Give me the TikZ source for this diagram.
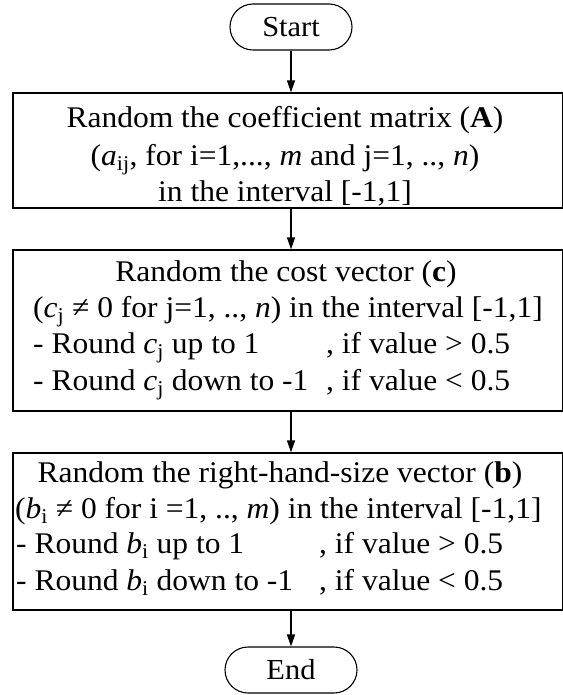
\documentclass[tikz,border=0pt]{standalone}
\usepackage{fontspec}
\setmainfont[FakeStretch=1.05]{Liberation Serif}
\usetikzlibrary{arrows.meta,shapes.misc}
\newcommand{\lowidx}[1]{\textsubscript{#1}}
\begin{document}
\begin{tikzpicture}[x=1pt,y=-1pt,
  box/.style={draw,line width=1.3pt,minimum width=550pt,inner sep=0pt},
  term/.style={draw,line width=1.1pt,rounded rectangle,minimum height=46pt,inner sep=0pt,font=\fontsize{29}{34}\selectfont},
  txt/.style={inner sep=0pt,font=\fontsize{30}{36}\selectfont},
  arr/.style={line width=1.3pt,-{Triangle[length=12pt,width=8pt]}}]
\useasboundingbox (0,0) rectangle (562,695);
\fill[white] (0,0) rectangle (562,695);
% terminators
\node[term,minimum width=122pt] (start) at (291,27) {Start};
\node[term,minimum width=132pt] (end) at (291,670) {End};
% boxes
\node[box,minimum height=115pt] (b1) at (288,150.5) {};
\node[box,minimum height=161pt] (b2) at (288,330.5) {};
\node[box,minimum height=157pt] (b3) at (288,531.5) {};
% box 1 text
\node[txt,anchor=base] (t11) at (285,128) {Random the coefficient matrix (\textbf{A})};
\node[txt,anchor=base] (t12) at (285,165) {(\textit{a}\lowidx{ij}, for i=1,..., \textit{m} and j=1, .., \textit{n})};
\node[txt,anchor=base] (t13) at (285,201) {in the interval [-1,1]};
% box 2 text
\node[txt,anchor=base] (t21) at (286,281) {Random the cost vector (\textbf{c})};
\node[txt,anchor=base] (t22) at (288,317) {(\textit{c}\lowidx{j} ≠ 0 for j=1, .., \textit{n}) in the interval [-1,1]};
\node[txt,anchor=base west] (t23) at (33,353) {\makebox[293pt][l]{- Round \textit{c}\lowidx{j} up to 1}, if value > 0.5};
\node[txt,anchor=base west] (t24) at (33,390) {\makebox[293pt][l]{- Round \textit{c}\lowidx{j} down to -1}, if value < 0.5};
% box 3 text
\node[txt,anchor=base] (t31) at (280,482) {Random the right-hand-size vector (\textbf{b})};
\node[txt,anchor=base west] (t32) at (15,518) {(\textit{b}\lowidx{i} ≠ 0 for i =1, .., \textit{m}) in the interval [-1,1]};
\node[txt,anchor=base west] (t33) at (16,553) {\makebox[303pt][l]{- Round \textit{b}\lowidx{i} up to 1}, if value > 0.5};
\node[txt,anchor=base west] (t34) at (16,590) {\makebox[303pt][l]{- Round \textit{b}\lowidx{i} down to -1}, if value < 0.5};
% arrows
\draw[arr] (start.south) -- (start.south |- b1.north);
\draw[arr] (start.south |- b1.south) -- (start.south |- b2.north);
\draw[arr] (start.south |- b2.south) -- (start.south |- b3.north);
\draw[arr] (start.south |- b3.south) -- (end.north);
\end{tikzpicture}
\end{document}
